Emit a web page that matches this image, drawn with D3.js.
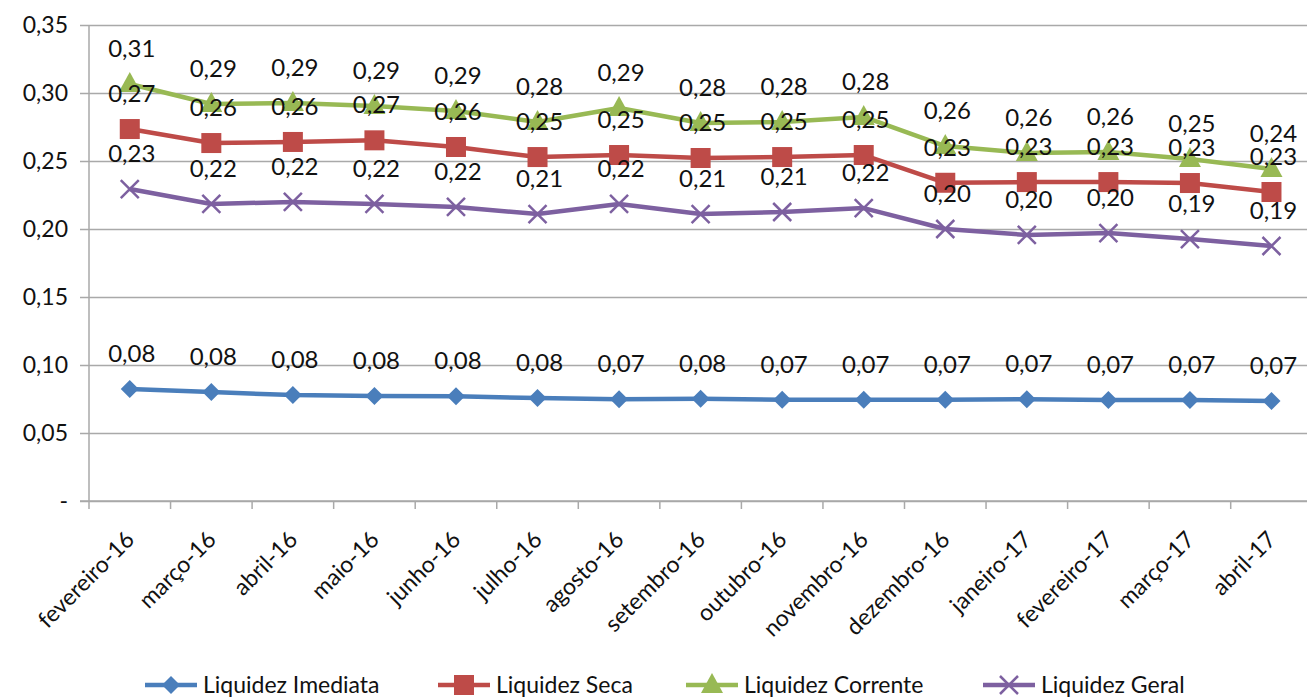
<!DOCTYPE html>
<html>
<head>
<meta charset="utf-8">
<script src="https://cdn.jsdelivr.net/npm/d3@7"></script>
<style>
	body { margin: 0; background: #fff; }
	text { font-family: Lato, "Open Sans", sans-serif; fill: #111; }
</style>
</head>
<body>
<div id="chart"></div>
<script>
// categories and series
const months = ["fevereiro-16", "março-16", "abril-16", "maio-16", "junho-16", "julho-16", "agosto-16",
	"setembro-16", "outubro-16", "novembro-16", "dezembro-16", "janeiro-17", "fevereiro-17", "março-17", "abril-17"];
const imediata = [0.0824, 0.0801, 0.0779, 0.0772, 0.0770, 0.0757, 0.0748, 0.0752, 0.0745, 0.0745, 0.0745, 0.0748, 0.0742, 0.0742, 0.0735];
const seca = [0.2735, 0.2632, 0.2640, 0.2652, 0.2603, 0.2529, 0.2544, 0.2522, 0.2529, 0.2544, 0.2340, 0.2345, 0.2345, 0.2338, 0.2272];
const corrente = [0.3066, 0.2919, 0.2926, 0.2904, 0.2868, 0.2787, 0.2890, 0.2780, 0.2787, 0.2824, 0.2610, 0.2559, 0.2566, 0.2515, 0.2441];
const geral = [0.2294, 0.2184, 0.2199, 0.2184, 0.2162, 0.2110, 0.2184, 0.2110, 0.2125, 0.2154, 0.2000, 0.1956, 0.1970, 0.1926, 0.1875];
const yTicks = [0, 0.05, 0.10, 0.15, 0.20, 0.25, 0.30, 0.35];

const series = [
	{name: "Liquidez Imediata", values: imediata, color: "#4a7ebb", marker: "diamond"},
	{name: "Liquidez Seca", values: seca, color: "#be4b48", marker: "square"},
	{name: "Liquidez Corrente", values: corrente, color: "#98b954", marker: "triangle"},
	{name: "Liquidez Geral", values: geral, color: "#7d60a0", marker: "cross"}
];

const W = 1307, H = 697;
const gridColor = "#a9a9a9";

const svg = d3.select("#chart").append("svg")
	.attr("width", W)
	.attr("height", H);

const x = d3.scaleBand().domain(months).range([89, 89 + 15 * 81.55]);
const y = d3.scaleLinear().domain([0, 0.35]).range([501, 25]);
const cx = (i) => x(months[i]) + x.bandwidth() / 2;

const fmt = (v) => d3.format(".2f")(v).replace(".", ",");

// y gridlines + labels
svg.append("g")
	.attr("transform", "translate(89,0)")
	.call(d3.axisLeft(y)
		.tickValues(yTicks)
		.tickSize(-(W - 89))
		.tickPadding(21)
		.tickFormat((d) => d === 0 ? "-" : fmt(d)))
	.call(g => g.select(".domain").remove())
	.call(g => g.selectAll("line").attr("stroke", gridColor).attr("stroke-width", 1.5).attr("x1", -9))
	.call(g => g.selectAll("text").attr("font-size", 23).attr("fill", "#111"));

// y axis line
svg.append("line")
	.attr("x1", 89).attr("x2", 89)
	.attr("y1", y(0.35)).attr("y2", y(0))
	.attr("stroke", gridColor).attr("stroke-width", 1.5);

// x axis: ticks at category boundaries
const xAxisG = svg.append("g").attr("class", "xAxis");
xAxisG.append("line")
	.attr("x1", 80).attr("x2", W)
	.attr("y1", y(0)).attr("y2", y(0))
	.attr("stroke", gridColor).attr("stroke-width", 1.5);
xAxisG.selectAll(".tk")
	.data(months)
	.enter().append("line")
	.attr("x1", (d) => x(d)).attr("x2", (d) => x(d))
	.attr("y1", y(0)).attr("y2", y(0) + 8)
	.attr("stroke", gridColor).attr("stroke-width", 1.5);
xAxisG.selectAll(".lbl")
	.data(months)
	.enter().append("text")
	.attr("transform", (d) => "translate(" + (x(d) + x.bandwidth() / 2 + 6) + "," + 541 + ") rotate(-45)")
	.attr("text-anchor", "end")
	.attr("font-size", 23)
	.text((d) => d);

// markers
function drawMarker(g, type, color) {
	if (type === "diamond") {
		g.append("path").attr("d", "M0,-9L9,0L0,9L-9,0Z").attr("fill", color);
	} else if (type === "square") {
		g.append("rect").attr("x", -10).attr("y", -10).attr("width", 20).attr("height", 20).attr("fill", color);
	} else if (type === "triangle") {
		g.append("path").attr("d", "M0,-12L11,8L-11,8Z").attr("fill", color);
	} else {
		g.append("path").attr("d", "M-9,-9L9,9M-9,9L9,-9")
			.attr("stroke", color).attr("stroke-width", 2.5).attr("fill", "none");
	}
}

const line = d3.line()
	.x((d, i) => cx(i))
	.y((d) => y(d));

series.forEach(function (s) {
	const g = svg.append("g");
	g.append("path")
		.datum(s.values)
		.attr("fill", "none")
		.attr("stroke", s.color)
		.attr("stroke-width", 4.5)
		.attr("stroke-linejoin", "round")
		.attr("d", line);
	s.values.forEach(function (v, i) {
		const m = g.append("g").attr("transform", "translate(" + cx(i) + "," + y(v) + ")");
		drawMarker(m, s.marker, s.color);
	});
});

// data labels on top
series.forEach(function (s) {
	svg.append("g").selectAll("text")
		.data(s.values)
		.enter().append("text")
		.attr("x", (d, i) => cx(i) + 2)
		.attr("y", (d) => y(d) - 27)
		.attr("text-anchor", "middle")
		.attr("font-size", 24)
		.text((d) => fmt(d));
});

// legend
const legendX = [145, 438, 686, 983];
series.forEach(function (s, i) {
	const g = svg.append("g").attr("transform", "translate(" + legendX[i] + ",685)");
	g.append("line")
		.attr("x1", 0).attr("x2", 52)
		.attr("stroke", s.color).attr("stroke-width", 4.5);
	const m = g.append("g").attr("transform", "translate(26,0)");
	drawMarker(m, s.marker, s.color);
	g.append("text")
		.attr("x", 58).attr("y", 8)
		.attr("font-size", 23)
		.text(s.name);
});
</script>
</body>
</html>
